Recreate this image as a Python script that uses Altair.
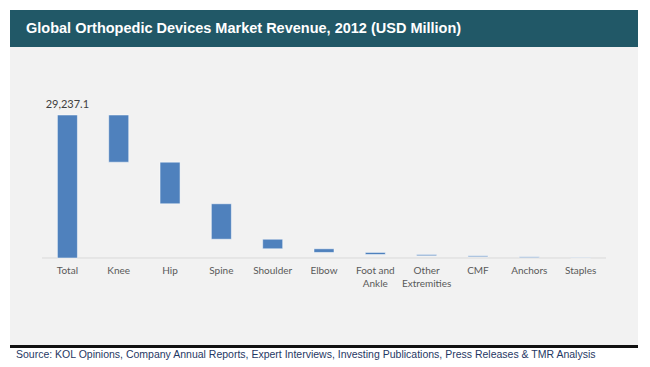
import altair as alt
import pandas as pd

title_text = "Global Orthopedic Devices Market Revenue, 2012 (USD Million)"
source_text = "Source: KOL Opinions, Company Annual Reports, Expert Interviews, Investing Publications, Press Releases & TMR Analysis"

categories = ["Total", "Knee", "Hip", "Spine", "Shoulder", "Elbow",
              "Foot and\nAnkle", "Other\nExtremities", "CMF", "Anchors", "Staples"]
total_value = 29237.1
segment_values = [9650, 8500, 7250, 1950, 750, 420, 260, 210, 180, 67.1]

# waterfall table
rows = [{"cat": categories[0], "start": 0.0, "end": total_value, "label": total_value}]
top = total_value
for c, v in zip(categories[1:], segment_values):
    rows.append({"cat": c, "start": top, "end": top - v, "label": None})
    top -= v
df = pd.DataFrame(rows)

W, H = 628, 357
xscale = alt.Scale(domain=categories, range=[32, 596], paddingInner=0.61, paddingOuter=0.3)
yscale = alt.Scale(domain=[0, total_value], range=[248, 105], nice=False, zero=True)

one = pd.DataFrame({"t": [""]})

header = alt.Chart(one).mark_rect(color="#215867").encode(
    x=alt.value(0), x2=alt.value(W), y=alt.value(0), y2=alt.value(37))
panel = alt.Chart(one).mark_rect(color="#F2F2F2").encode(
    x=alt.value(0), x2=alt.value(W), y=alt.value(37), y2=alt.value(335))
line = alt.Chart(one).mark_rect(color="#111111").encode(
    x=alt.value(0), x2=alt.value(W), y=alt.value(335), y2=alt.value(338))
title = alt.Chart(pd.DataFrame({"t": [title_text]})).mark_text(
    font="Liberation Sans", fontWeight="bold", fontSize=14.5, color="white",
    align="left", baseline="middle").encode(
    x=alt.value(16), y=alt.value(19), text="t:N")
source = alt.Chart(pd.DataFrame({"t": [source_text]})).mark_text(
    font="Liberation Sans", fontSize=10.5, color="#1F3864",
    align="left", baseline="middle").encode(
    x=alt.value(6), y=alt.value(345), text="t:N")

baseline = alt.Chart(one).mark_rule(color="#D9D9D9", strokeWidth=1).encode(
    x=alt.value(32), x2=alt.value(596), y=alt.value(248))

base = alt.Chart(df)
bars = base.mark_bar(color="#4F81BD", stroke="#FFFFFF", strokeWidth=0.5).encode(
    x=alt.X("cat:N", scale=xscale, sort=categories, axis=None),
    y=alt.Y("start:Q", scale=yscale, axis=None),
    y2="end:Q")
value_label = base.transform_filter("datum.label != null").mark_text(
    font="Lato", fontSize=11, color="#404040", baseline="middle", dy=-10).encode(
    x=alt.X("cat:N", scale=xscale, sort=categories, axis=None),
    y=alt.Y("end:Q", scale=yscale, axis=None),
    text=alt.Text("label:Q", format=",.1f"))
cat_labels = base.mark_text(
    font="Lato", fontSize=10, color="#595959", baseline="top",
    lineBreak="\n", lineHeight=13).encode(
    x=alt.X("cat:N", scale=xscale, sort=categories, axis=None),
    y=alt.value(256),
    text="cat:N")

chart = alt.layer(header, panel, line, title, source, baseline, bars, value_label, cat_labels).properties(
    width=W, height=H,
    autosize=alt.AutoSizeParams(type="none"),
    padding={"left": 2, "top": 2, "right": 0, "bottom": 0},
    background="white",
).configure_view(stroke=None)

chart.save("out.html", embed_options={"renderer": "svg", "actions": False})
